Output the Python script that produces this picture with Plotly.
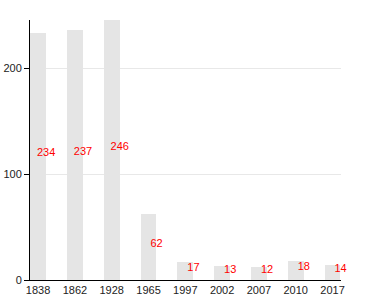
import plotly.graph_objects as go

years = ["1838", "1862", "1928", "1965", "1997", "2002", "2007", "2010", "2017"]
values = [234, 237, 246, 62, 17, 13, 12, 18, 14]

idx = list(range(len(years)))

fig = go.Figure()
fig.add_trace(go.Bar(
    x=idx, y=values, width=0.43,
    marker=dict(color="rgb(229,229,229)", line=dict(width=0)),
    hoverinfo="skip",
))
fig.add_trace(go.Scatter(
    x=[i + 0.22 for i in idx], y=[v / 2 + 2.8 for v in values],
    mode="text", text=[str(v) for v in values],
    textfont=dict(color="#ff0000", size=11, family="Liberation Sans, Arial"),
    textposition="middle center", hoverinfo="skip", cliponaxis=False,
))

fig.update_layout(
    width=380, height=300,
    margin=dict(l=30, r=39, t=20, b=20),
    paper_bgcolor="white", plot_bgcolor="white",
    showlegend=False,
    font=dict(family="Liberation Sans, Arial", size=11, color="#222"),
    bargap=0,
)
fig.update_xaxes(
    range=[-0.22, 8.23], automargin=False,
    tickmode="array", tickvals=idx, ticktext=years,
    showgrid=False, zeroline=False,
    showline=True, linecolor="black", linewidth=1,
    ticks="", ticklen=0,
    tickfont=dict(size=11, color="#222"),
)
fig.update_yaxes(
    range=[0, 246], automargin=False,
    tickvals=[0, 100, 200],
    showgrid=True, gridcolor="#e8e8e8", gridwidth=1,
    zeroline=False,
    showline=True, linecolor="black", linewidth=1,
    ticks="outside", ticklen=5, tickcolor="black",
    tickfont=dict(size=11, color="#222"),
)

fig.write_html("out.html")
